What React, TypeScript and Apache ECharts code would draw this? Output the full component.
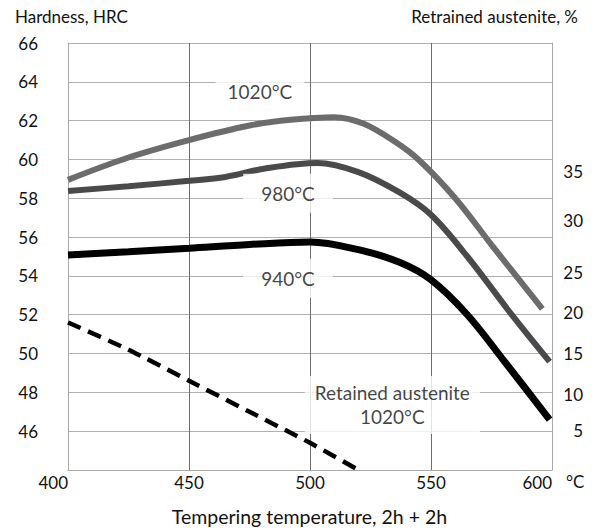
import React, { useEffect, useRef } from "react";
import * as echarts from "echarts";

// Tempering temperature, °C  /  hardness, HRC
const temps1020 = [400, 425, 450, 475, 492, 510, 522, 535, 545, 560, 575, 596];
const hrc1020 = [58.95, 60.1, 61.0, 61.75, 62.05, 62.18, 61.85, 60.92, 59.97, 58.0, 55.6, 52.3];

const temps980 = [400, 425, 450, 465, 482, 503, 520, 537, 550, 565, 584, 599];
const hrc980 = [58.38, 58.62, 58.9, 59.1, 59.55, 59.82, 59.35, 58.3, 57.15, 55.0, 51.9, 49.58];

const temps940 = [400, 425, 450, 475, 500, 520, 537, 550, 565, 580, 599];
const hrc940 = [55.08, 55.25, 55.43, 55.62, 55.75, 55.35, 54.7, 53.8, 52.0, 49.65, 46.6];

// Retained austenite (1020°C), drawn on the hardness scale as in the picture
const tempsAust = [400, 425, 450, 475, 500, 520];
const hrcAust = [51.6, 50.2, 48.6, 47.0, 45.4, 44.0];

// Right-axis tick labels (retained austenite, %) and where they sit on the HRC scale
const austeniteTicks = [5, 10, 15, 20, 25, 30, 35];
const austeniteTickAtHRC = [46.05, 47.9, 50.0, 52.1, 54.2, 56.85, 59.4];

const xTicks = [400, 450, 500, 550, 600];
const hrcMin = 44;
const hrcMax = 66;

const FONT = "Lato";

function zip(xs: number[], ys: number[]) {
  return xs.map((x, i) => [x, ys[i]]);
}

export default function App() {
  const ref = useRef<HTMLDivElement>(null);
  useEffect(() => {
    if (!ref.current) return;
    const chart = echarts.init(ref.current, null, { renderer: "svg" });
    const labelStyle = {
      show: true,
      position: "inside",
      color: "#111",
      fontFamily: FONT,
      fontSize: 19,
      backgroundColor: "#fff",
    };
    chart.setOption({
      animation: false,
      backgroundColor: "#fff",
      textStyle: { fontFamily: FONT },
      grid: { left: 68, right: 49, top: 43, bottom: 61 },
      graphic: [
        {
          type: "text",
          style: {
            x: 15,
            y: 16.5,
            text: "Hardness, HRC",
            font: `17px ${FONT}`,
            fill: "#111",
            align: "left",
            verticalAlign: "middle",
          },
        },
        {
          type: "text",
          style: {
            x: 578,
            y: 16.5,
            text: "Retrained austenite, %",
            font: `17px ${FONT}`,
            fill: "#111",
            align: "right",
            verticalAlign: "middle",
          },
        },
        {
          type: "text",
          style: {
            x: 309.5,
            y: 516,
            text: "Tempering temperature, 2h + 2h",
            font: `19.5px ${FONT}`,
            fill: "#111",
            align: "center",
            verticalAlign: "middle",
          },
        },
      ],
      xAxis: {
        type: "value",
        min: xTicks[0],
        max: xTicks[xTicks.length - 1],
        interval: 50,
        name: "°C",
        nameLocation: "end",
        nameGap: 14,
        nameTextStyle: { color: "#111", fontSize: 17, fontFamily: FONT, verticalAlign: "top", padding: [3, 0, 0, 0] },
        axisLine: { show: true, lineStyle: { color: "#aaa", width: 1 } },
        axisTick: { show: false },
        axisLabel: {
          color: "#111",
          fontSize: 17,
          fontFamily: FONT,
          margin: 4,
          alignMinLabel: "right",
          alignMaxLabel: "right",
        },
        splitLine: { show: true, showMinLine: false, showMaxLine: false, lineStyle: { color: "#6e6e6e", width: 1 } },
      },
      yAxis: [
        {
          type: "value",
          min: hrcMin,
          max: hrcMax,
          interval: 2,
          axisLine: { show: true, lineStyle: { color: "#aaa", width: 1 } },
          axisTick: { show: false },
          axisLabel: {
            color: "#111",
            fontSize: 17,
            fontFamily: FONT,
            margin: 30,
            padding: [0, 0, 7, 0],
            formatter: (v: number) => (v === hrcMin ? "" : String(v)),
          },
          splitLine: { show: true, lineStyle: { color: "#b0b0b0", width: 1 } },
        },
        {
          type: "value",
          position: "right",
          min: hrcMin,
          max: hrcMax,
          axisLine: { show: true, lineStyle: { color: "#aaa", width: 1 } },
          axisTick: { show: false },
          splitLine: { show: false },
          axisLabel: {
            color: "#111",
            fontSize: 17,
            fontFamily: FONT,
            margin: 31,
            align: "right",
            padding: [0, 0, 7, 0],
            customValues: austeniteTickAtHRC,
            formatter: (v: number) => {
              const i = austeniteTickAtHRC.findIndex((p) => Math.abs(p - v) < 1e-6);
              return i >= 0 ? String(austeniteTicks[i]) : "";
            },
          },
        },
      ],
      series: [
        {
          name: "1020°C",
          type: "line",
          smooth: 0.35,
          symbol: "none",
          data: zip(temps1020, hrc1020),
          lineStyle: { color: "#6c6c6e", width: 6 },
          z: 3,
        },
        {
          name: "980°C",
          type: "line",
          smooth: 0.35,
          symbol: "none",
          data: zip(temps980, hrc980),
          lineStyle: { color: "#4a4a4c", width: 6 },
          z: 3,
        },
        {
          name: "940°C",
          type: "line",
          smooth: 0.35,
          symbol: "none",
          data: zip(temps940, hrc940),
          lineStyle: { color: "#000", width: 7 },
          z: 3,
        },
        {
          name: "Retained austenite 1020°C",
          type: "line",
          smooth: 0.2,
          symbol: "none",
          data: zip(tempsAust, hrcAust),
          lineStyle: { color: "#000", width: 4.5, type: [14, 8] },
          z: 3,
        },
        {
          name: "labels",
          type: "scatter",
          symbolSize: 1,
          itemStyle: { color: "rgba(0,0,0,0)" },
          silent: true,
          z: 4,
          data: [
            { name: "1020°C", value: [479.3, 63.48], label: { ...labelStyle, padding: [8, 12] } },
            { name: "980°C", value: [490.9, 58.26], label: { ...labelStyle, padding: [10, 18] } },
            { name: "940°C", value: [490.9, 53.88], label: { ...labelStyle, padding: [10, 18] } },
            {
              name: "Retained austenite\n1020°C",
              value: [534, 47.35],
              label: { ...labelStyle, padding: [5, 10], lineHeight: 24, align: "center" },
            },
          ],
          label: { show: true, formatter: (p: any) => p.name },
        },
      ],
    });
    return () => chart.dispose();
  }, []);
  return <div ref={ref} style={{ position: "fixed", left: 0, top: 0, width: 601, height: 531 }} />;
}
